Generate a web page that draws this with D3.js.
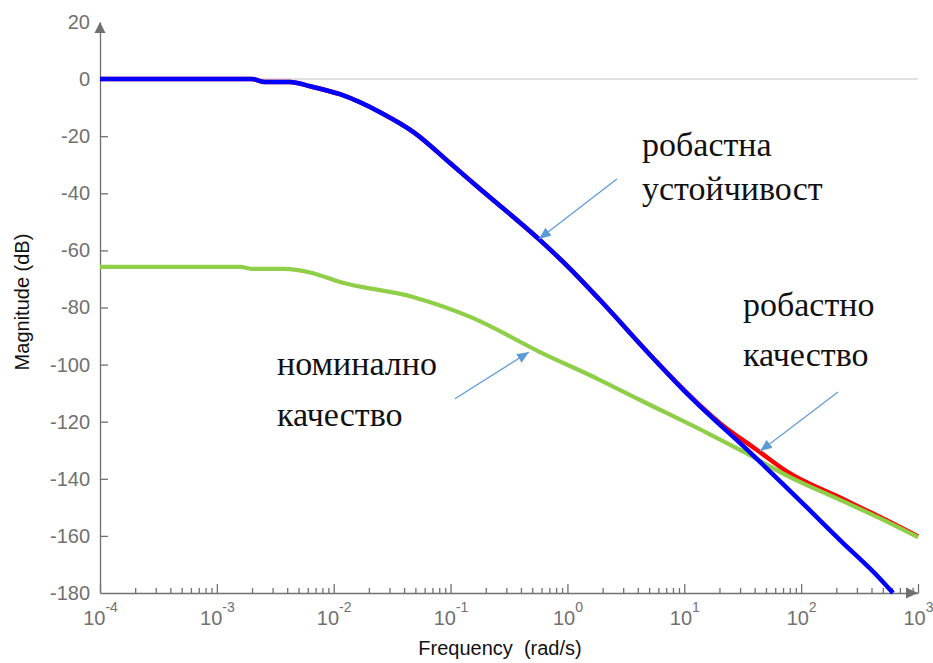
<!DOCTYPE html>
<html>
<head>
<meta charset="utf-8">
<script src="https://cdn.jsdelivr.net/npm/d3@7"></script>
<style>
  body { margin: 0; background: #fff; }
  svg { display: block; }
</style>
</head>
<body>
<div id="chart"></div>
<script>
// frequency (rad/s) and magnitude (dB)
const stabFreq = [1e-4, 0.002, 0.00258, 0.00423, 0.00627, 0.0113, 0.0249, 0.0495, 0.0989, 0.179, 0.582, 1.0, 1.90, 5.40, 10, 40.3, 112, 215, 473, 611];
const stabMag  = [0, 0, -1.0, -1.0, -2.5, -5.3, -11.6, -18.9, -29.4, -38.5, -56.4, -65.5, -77.4, -97.7, -109.2, -132.4, -150, -161.5, -175, -180];

const perfFreq = [1e-4, 0.002, 0.00258, 0.00423, 0.00627, 0.0113, 0.0249, 0.0495, 0.0989, 0.179, 0.582, 1.0, 1.90, 5.40, 10, 20.2, 41.9, 75.7, 215, 412, 1000];
const perfMag  = [0, 0, -1.0, -1.0, -2.5, -5.3, -11.6, -18.9, -29.4, -38.5, -56.4, -65.5, -77.4, -97.7, -109.0, -120.5, -129.9, -137.5, -146.6, -152.2, -160.2];

const nomFreq = [1e-4, 0.00158, 0.00204, 0.00368, 0.00652, 0.0113, 0.0476, 0.156, 0.582, 1.90, 4.18, 15.6, 30.0, 80.2, 215, 575, 1000];
const nomMag  = [-65.8, -65.8, -66.5, -66.5, -67.9, -71.1, -76.3, -83.7, -95.6, -105.4, -112.4, -123.9, -129.9, -139.4, -147.4, -155.5, -160.4];

const yTicks = [20, 0, -20, -40, -60, -80, -100, -120, -140, -160, -180];
const xDecades = [-4, -3, -2, -1, 0, 1, 2, 3];

// annotations: text lines and arrows (tail -> tip), in data units
const notes = [
  { lines: ['робастна', 'устойчивост'], f: 4.35, db: [-27.0, -42.4] },
  { lines: ['робастно', 'качество'], f: 31.8, db: [-83.0, -100.5] },
  { lines: ['номинално', 'качество'], f: 0.00327, db: [-103.6, -121.5] }
];
const arrows = [
  { from: [2.65, -35.0], to: [0.571, -56.0] },
  { from: [207, -109.6], to: [44.5, -130.3] },
  { from: [0.109, -112.0], to: [0.469, -95.6] }
];

const W = 933, H = 663;
const margin = { top: 22, right: 15, bottom: 70, left: 100 };
const width = W - margin.left - margin.right;
const height = H - margin.top - margin.bottom;
const axisColor = '#707070';

const svg = d3.select('#chart').append('svg')
  .attr('width', W)
  .attr('height', H);

const g = svg.append('g')
  .attr('transform', `translate(${margin.left},${margin.top})`);

const x = d3.scaleLog().domain([1e-4, 1e3]).range([0, width]);
const y = d3.scaleLinear().domain([-180, 20]).range([height, 0]);

// zero line
g.append('line')
  .attr('x1', 0).attr('x2', width)
  .attr('y1', y(0)).attr('y2', y(0))
  .attr('stroke', '#d6d6d6')
  .attr('stroke-width', 1.5);

// x axis: major and minor ticks pointing up
const minor = [];
xDecades.slice(0, -1).forEach(e => {
  for (let k = 2; k <= 9; k++) minor.push(k * Math.pow(10, e));
});

const xAxis = g.append('g')
  .attr('transform', `translate(0,${height})`)
  .call(d3.axisBottom(x)
    .tickValues(xDecades.map(e => Math.pow(10, e)))
    .tickSizeInner(-9)
    .tickSizeOuter(0)
    .tickFormat(''));

g.append('g')
  .attr('transform', `translate(0,${height})`)
  .call(d3.axisBottom(x).tickValues(minor).tickSizeInner(-5).tickSizeOuter(0).tickFormat(''))
  .call(s => s.select('.domain').remove());

xAxis.selectAll('.tick text').remove();
xAxis.selectAll('.tick').each(function(d) {
  const t = d3.select(this).append('text')
    .attr('y', 32)
    .attr('text-anchor', 'middle')
    .attr('fill', axisColor)
    .style('font-family', '"Liberation Sans", Arial, sans-serif')
    .style('font-size', '20px');
  t.append('tspan').text('10');
  t.append('tspan')
    .attr('dy', -13)
    .style('font-size', '14px')
    .text(Math.round(Math.log10(d)));
});

// y axis, ticks pointing right
const yAxis = g.append('g')
  .call(d3.axisLeft(y)
    .tickValues(yTicks)
    .tickSizeInner(-8)
    .tickSizeOuter(0)
    .tickPadding(10)
    .tickFormat(d => String(d)));

yAxis.selectAll('.tick').filter(d => d === 20 || d === 0 || d === -180).select('line').remove();

g.selectAll('.domain, .tick line')
  .attr('stroke', axisColor)
  .attr('stroke-width', 1.3);

yAxis.selectAll('.tick text')
  .attr('fill', axisColor)
  .style('font-family', '"Liberation Sans", Arial, sans-serif')
  .style('font-size', '20px');

// arrow heads on the axes
g.append('path')
  .attr('d', `M${x(1e3)},${height} l-12,-5.5 l0,11 Z`)
  .attr('fill', axisColor);
g.append('path')
  .attr('d', `M0,${y(20)} l-5.5,11 l11,0 Z`)
  .attr('fill', axisColor);

// curves
const line = d3.line()
  .x(d => x(d[0]))
  .y(d => y(d[1]))
  .curve(d3.curveMonotoneX);

const series = [
  { f: perfFreq, m: perfMag, color: '#ff0000', w: 4.5 },
  { f: nomFreq, m: nomMag, color: '#8fce48', w: 4.2 },
  { f: stabFreq, m: stabMag, color: '#0000ff', w: 4.5 }
];

series.forEach(s => {
  g.append('path')
    .datum(d3.zip(s.f, s.m))
    .attr('d', line)
    .attr('fill', 'none')
    .attr('stroke', s.color)
    .attr('stroke-width', s.w)
    .attr('stroke-linejoin', 'round');
});

// annotation arrows
svg.append('defs').append('marker')
  .attr('id', 'head')
  .attr('viewBox', '0 0 12 10')
  .attr('refX', 12).attr('refY', 5)
  .attr('markerWidth', 12).attr('markerHeight', 10)
  .attr('markerUnits', 'userSpaceOnUse')
  .attr('orient', 'auto')
  .append('path')
  .attr('d', 'M0,0 L12,5 L0,10 Z')
  .attr('fill', '#5b9bd5');

arrows.forEach(a => {
  g.append('line')
    .attr('x1', x(a.from[0])).attr('y1', y(a.from[1]))
    .attr('x2', x(a.to[0])).attr('y2', y(a.to[1]))
    .attr('stroke', '#5b9bd5')
    .attr('stroke-width', 1.2)
    .attr('marker-end', 'url(#head)');
});

notes.forEach(n => {
  n.lines.forEach((txt, i) => {
    g.append('text')
      .attr('x', x(n.f))
      .attr('y', y(n.db[i]))
      .attr('fill', '#111')
      .style('font-family', '"Liberation Serif", "Times New Roman", serif')
      .style('font-size', '34px')
      .text(txt);
  });
});

// axis titles
svg.append('text')
  .attr('x', 500).attr('y', 655)
  .attr('text-anchor', 'middle')
  .attr('fill', '#111')
  .style('font-family', '"Liberation Sans", Arial, sans-serif')
  .style('font-size', '20px')
  .style('white-space', 'pre')
  .text('Frequency  (rad/s)');

svg.append('text')
  .attr('transform', 'translate(29,302) rotate(-90)')
  .attr('text-anchor', 'middle')
  .attr('fill', '#111')
  .style('font-family', '"Liberation Sans", Arial, sans-serif')
  .style('font-size', '20px')
  .text('Magnitude (dB)');
</script>
</body>
</html>
